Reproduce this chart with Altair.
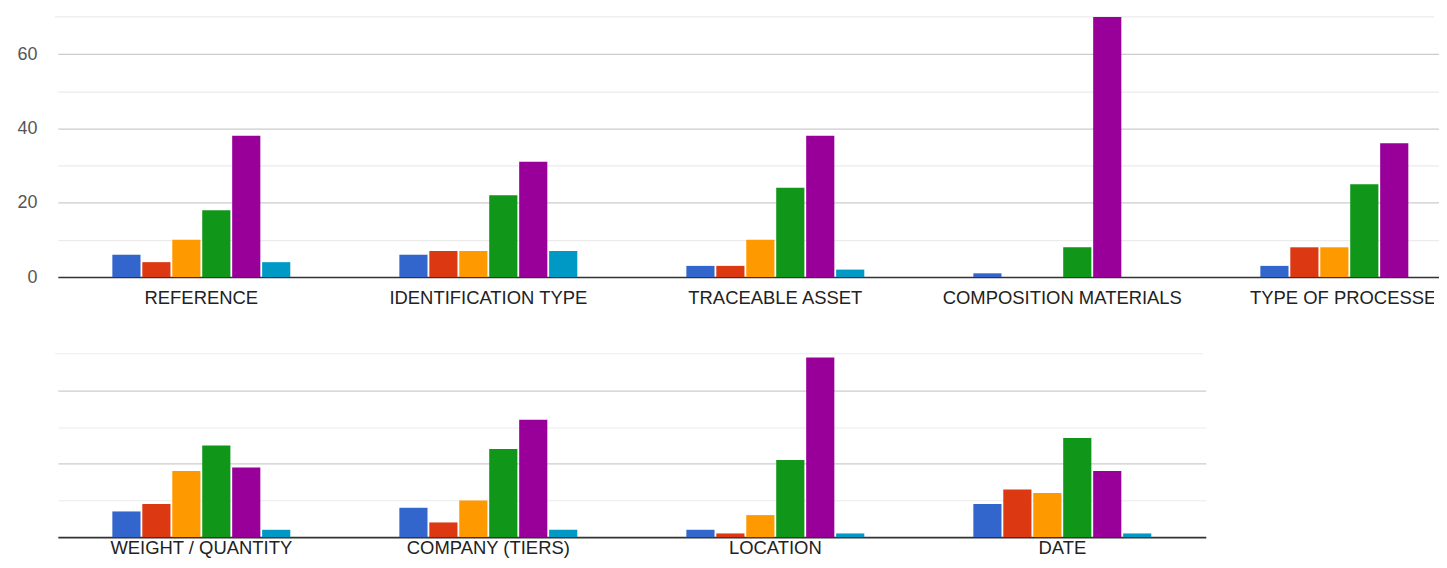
import altair as alt
import pandas as pd

top_groups = ["REFERENCE", "IDENTIFICATION TYPE", "TRACEABLE ASSET",
              "COMPOSITION MATERIALS", "TYPE OF PROCESSES"]
bottom_groups = ["WEIGHT / QUANTITY", "COMPANY (TIERS)", "LOCATION", "DATE"]

series = ["1", "2", "3", "4", "5", "6"]
colors = ["#3366cc", "#dc3912", "#ff9900", "#109618", "#990099", "#0099c6"]

# values per series, top row groups
top_s1 = [6, 6, 3, 1, 3]
top_s2 = [4, 7, 3, 0, 8]
top_s3 = [10, 7, 10, 0, 8]
top_s4 = [18, 22, 24, 8, 25]
top_s5 = [38, 31, 38, 70, 36]
top_s6 = [4, 7, 2, 0, 0]

# values per series, bottom row groups
bot_s1 = [7, 8, 2, 9]
bot_s2 = [9, 4, 1, 13]
bot_s3 = [18, 10, 6, 12]
bot_s4 = [25, 24, 21, 27]
bot_s5 = [19, 32, 49, 18]
bot_s6 = [2, 2, 1, 1]


def make_df(groups, cols):
    rows = []
    for s, vals in zip(series, cols):
        for g, v in zip(groups, vals):
            rows.append({"group": g, "series": s, "value": v})
    return pd.DataFrame(rows)


top_df = make_df(top_groups, [top_s1, top_s2, top_s3, top_s4, top_s5, top_s6])
bot_df = make_df(bottom_groups, [bot_s1, bot_s2, bot_s3, bot_s4, bot_s5, bot_s6])

BAND = 288
SHIFT = 3
TOP_W = 1384          # visible plot width of the (cropped) top row
FONT = "Liberation Sans"


def xsc(groups):
    return alt.Scale(paddingInner=0.38, paddingOuter=0.19,
                     range=[SHIFT, SHIFT + len(groups) * BAND])


def bars(df, groups, ymax, height, width, show_labels):
    gridcol = {"condition": [
        {"test": "datum.value === 0", "value": "#333333"},
        {"test": "datum.value % 20 === 0", "value": "#cccccc"}],
        "value": "#ebebeb"}
    gridw = {"condition": {"test": "datum.value === 0", "value": 1.6},
             "value": 1.2}
    vals = list(range(0, ymax, 10))
    b = alt.Chart(df).mark_bar().encode(
        x=alt.X("group:N", sort=groups, scale=xsc(groups), axis=None),
        xOffset=alt.XOffset("series:N", sort=series,
                            scale=alt.Scale(paddingInner=0.06)),
        y=alt.Y("value:Q", scale=alt.Scale(domain=[0, ymax], nice=False, zero=True),
                axis=alt.Axis(title=None, values=vals,
                              ticks=False, domain=False, labels=show_labels,
                              labelExpr="datum.value % 20 === 0 ? datum.label : ''",
                              labelFontSize=18, labelColor="#555555",
                              labelFont=FONT, labelPadding=18,
                              gridColor=gridcol, gridWidth=gridw)),
        color=alt.Color("series:N", sort=series,
                        scale=alt.Scale(domain=series, range=colors), legend=None),
    )
    toprule = alt.Chart(pd.DataFrame({"v": [ymax]})).mark_rule(
        color="#ebebeb", strokeWidth=1.2).encode(y="v:Q")
    return alt.layer(toprule, b).properties(width=width, height=height)


def labels(groups, width, height, ypos, clip):
    df = pd.DataFrame({"group": groups})
    return alt.Chart(df).mark_text(
        clip=clip, font=FONT, fontSize=18.5, color="#222222", baseline="middle"
    ).encode(
        x=alt.X("group:N", sort=groups, scale=xsc(groups), axis=None),
        y=alt.value(ypos),
        text="group:N",
    ).properties(width=width, height=height)


top = bars(top_df, top_groups, 70, 261, TOP_W, True)
top_lab = labels(top_groups, TOP_W, 77, 21, True)
bottom = bars(bot_df, bottom_groups, 50, 184, len(bottom_groups) * BAND, False)
bot_lab = labels(bottom_groups, len(bottom_groups) * BAND, 21, 11, False)

chart = alt.vconcat(top, top_lab, bottom, bot_lab, spacing=0, bounds="flush").properties(
    padding={"left": 8, "top": 7, "right": 0, "bottom": 0},
    background="white",
).configure_view(stroke=None)

chart.save("out.html", embed_options={"renderer": "svg", "actions": False})
